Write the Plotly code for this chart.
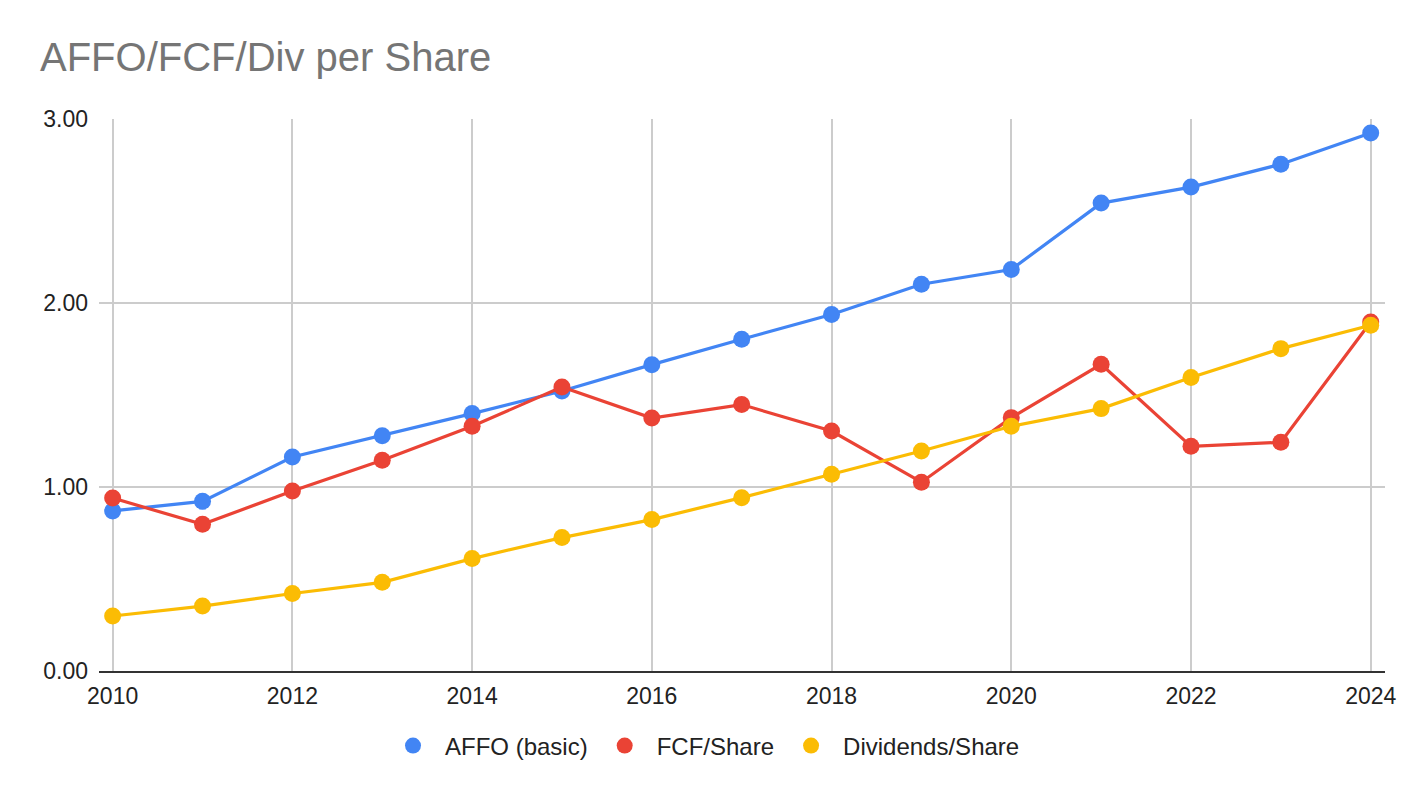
import plotly.graph_objects as go

# 数据（读自参考图）
years = list(range(2010, 2025))
affo = [0.87, 0.922, 1.163, 1.279, 1.399, 1.522, 1.665, 1.803, 1.937,
        2.102, 2.182, 2.543, 2.630, 2.754, 2.924]
fcf = [0.94, 0.797, 0.978, 1.145, 1.330, 1.543, 1.375, 1.448, 1.304,
       1.026, 1.377, 1.667, 1.221, 1.243, 1.897]
divs = [0.299, 0.353, 0.421, 0.482, 0.611, 0.725, 0.823, 0.942, 1.069,
        1.196, 1.330, 1.426, 1.595, 1.752, 1.879]

series = [
    ("AFFO (basic)", affo, "#4285F4"),
    ("FCF/Share", fcf, "#EA4335"),
    ("Dividends/Share", divs, "#FBBC04"),
]

FONT = "Arial, Liberation Sans, sans-serif"
W, H = 1424, 798
OFF = 8  # 页面 body 默认 8px 外边距

fig = go.Figure()

for name, vals, color in series:
    fig.add_trace(
        go.Scatter(
            x=years, y=vals, name=name,
            mode="lines+markers",
            line=dict(color=color, width=3.2),
            marker=dict(color=color, size=17),
            showlegend=False,
            cliponaxis=False,
        )
    )

# 图例只显示圆点
for name, vals, color in series:
    fig.add_trace(
        go.Scatter(
            x=[None], y=[None], name=name,
            mode="markers",
            marker=dict(color=color, size=22),
        )
    )

fig.update_layout(
    width=W, height=H,
    plot_bgcolor="white",
    paper_bgcolor="white",
    margin=dict(l=99 - OFF, r=39 + OFF, t=119 - OFF, b=127 + OFF),
    font=dict(family=FONT, size=23, color="#222222"),
    title=dict(
        text="AFFO/FCF/Div per Share",
        font=dict(family=FONT, size=40, color="#757575"),
        xref="container", yref="container",
        x=(40 - OFF) / W, xanchor="left",
        y=1 - (57 - OFF) / H, yanchor="middle",
    ),
    legend=dict(
        orientation="h",
        xref="container", yref="container",
        x=(703 - OFF) / W, xanchor="center",
        y=1 - (746 - OFF) / H, yanchor="middle",
        font=dict(family=FONT, size=24, color="#222222"),
        itemsizing="trace",
        itemwidth=54,
    ),
)

fig.update_xaxes(
    range=[2009.848, 2024.159],
    tickmode="linear", tick0=2010, dtick=2,
    showgrid=True, gridcolor="#cccccc", gridwidth=2,
    showline=True, linecolor="#333333", linewidth=2,
    zeroline=False,
    ticks="", ticklabelstandoff=3,
    tickfont=dict(family=FONT, size=23, color="#222222"),
)
fig.update_yaxes(
    range=[0, 3],
    tickmode="linear", tick0=0, dtick=1, tickformat=".2f",
    showgrid=True, gridcolor="#cccccc", gridwidth=2,
    zeroline=False,
    ticks="", ticklabelstandoff=10,
    tickfont=dict(family=FONT, size=23, color="#222222"),
)

fig.write_html("out.html")
